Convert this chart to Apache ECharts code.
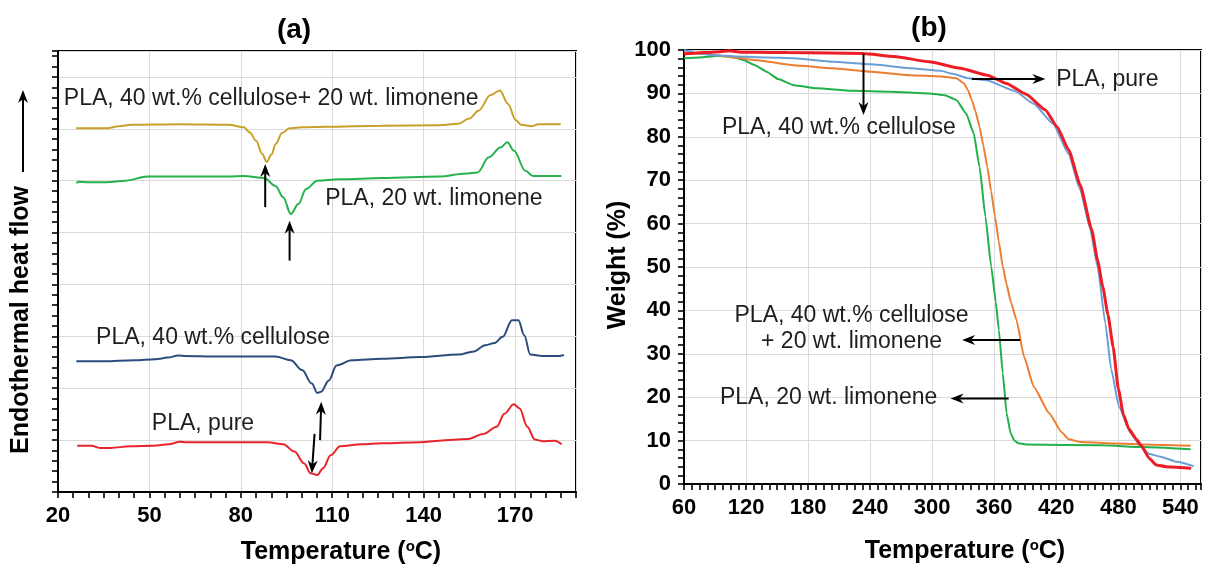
<!DOCTYPE html>
<html>
<head>
<meta charset="utf-8">
<script src="https://cdn.jsdelivr.net/npm/echarts@6/dist/echarts.min.js"></script>
<style>
  html, body { margin: 0; padding: 0; background: #fff; }
  #chart { width: 1209px; height: 568px; }
</style>
</head>
<body>
<div id="chart"></div>
<script>
// ---- (a) DSC thermograms: [temperature °C, heat flow (curves offset, arbitrary units)]
const dscPure = [[26.3,8.9],[31,8.9],[33.8,8.5],[37.2,8.5],[43.8,8.8],[51.3,8.9],[56.3,9.2],[60.1,9.7],[62,9.6],[75,9.6],[88.8,9.6],[93.9,9.2],[97.6,7.8],[100.8,5.5],[102.9,3.6],[105.1,3.3],[107,4.6],[109.5,7.1],[112.6,8.8],[119.5,9.2],[126.4,9.4],[138.9,9.6],[145.1,9.9],[154.6,10.2],[159.6,11.2],[164,12.6],[166.5,15.1],[169.6,16.9],[171.5,16.1],[174,12.6],[176.5,10.1],[179,9.8],[183,9.9],[185.3,9.2]];
const dscCellulose = [[26,25.2],[35,25.2],[45,25.4],[52,25.6],[56,25.9],[59.4,26.3],[62,26.2],[71,26.1],[91.4,26.1],[96.4,25.4],[100.1,23.5],[103.3,20.9],[105.1,19.1],[106.3,19.3],[108.9,21.5],[111.4,24.4],[116.4,25.4],[126.4,25.7],[138.9,26.0],[151.5,26.5],[156.5,27.1],[160.2,28.3],[163.3,28.7],[165.9,29.9],[169,33.1],[171.1,33.1],[173,30.2],[175,26.5],[179,26.2],[184.4,26.2],[186,26.4]];
const dscLimonene = [[26,59.6],[27,59.8],[30,59.7],[36,59.7],[42,60.0],[49.4,60.8],[60,60.8],[76,60.8],[81,60.9],[87.6,60.5],[91.4,59.0],[93.9,56.8],[96.4,53.6],[98.9,55.5],[101.4,58.4],[105.1,60.0],[112.4,60.3],[126.4,60.5],[145.1,60.8],[153.9,61.4],[157.7,61.6],[161.4,64.5],[165.2,66.4],[167.5,67.4],[169.6,65.8],[173.4,61.9],[175.9,60.9],[185.2,60.9]];
const dscCellLimonene = [[26,70.1],[36,70.1],[40,70.5],[44,70.8],[60,70.9],[76,70.8],[81,70.3],[83,69.3],[85,67.7],[87,65.2],[88.5,63.6],[90,65.0],[91.5,67.1],[93.5,69.2],[96,70.1],[100,70.3],[108,70.4],[126,70.6],[145,70.7],[151.5,71.0],[155,72.0],[158,73.5],[162,76.5],[165,77.4],[167.7,74.8],[170.2,71.7],[172,70.8],[175.6,70.5],[177.7,70.9],[185,70.9]];

// ---- (b) TGA curves: [temperature °C, weight %]
const tgaPure = [[60,99.1],[65,99.2],[80,99.4],[95,99.6],[104,99.8],[115,99.5],[128.6,99.5],[160,99.4],[200,99.3],[233.5,99.2],[263.5,98.5],[297.2,97.3],[327.2,95.8],[353.3,94.2],[372,92.3],[390.8,89.8],[409.5,86.2],[420.8,82.3],[432,77.0],[443.2,68.9],[454.4,58.5],[460,51.5],[465,45.5],[470,39],[475,31.6],[480,22],[485,16],[490,12.8],[497.5,10.3],[502,8.9],[510,5.9],[516.7,4.4],[526,4.0],[540,3.8],[550.5,3.6]];
const tgaCellulose = [[60,100],[66,99.7],[72.6,99.2],[90,98.8],[110,98.5],[140,98.3],[166,98.1],[203.6,97.3],[241,96.7],[278.4,95.8],[308.3,95.2],[320,94.5],[334.6,93.5],[353.3,93.0],[379.5,90.6],[398.2,87.6],[417,83.0],[432,76.0],[443.2,67.8],[452.6,59.0],[460,50.1],[467.5,37],[473.1,26.5],[480.7,17.8],[491.9,11.7],[501.3,8.8],[510,6.9],[521,6.3],[536.8,5.1],[553,4.1]];
const tgaCellLimonene = [[60,99.5],[75,99.2],[91.2,98.8],[110,98.2],[128.6,97.7],[166,96.5],[203.6,95.8],[241,95.0],[278.4,94.2],[308.3,93.9],[323.4,93.5],[330.8,92.3],[334.5,90.8],[338.3,88.5],[342,85.8],[345.8,82.3],[349.5,78],[353.3,73.1],[357,67.5],[360.8,61.6],[364.5,55.8],[368.3,50.1],[372,46],[376,42],[381.5,37.8],[388.9,29.3],[398.2,22.4],[413.2,16.3],[425,12],[432,10.3],[443.2,9.7],[470,9.4],[503,9.1],[550,8.8]];
const tgaLimonene = [[60,98.1],[75,98.3],[91.2,98.6],[106.2,98.5],[117.4,97.7],[128.6,96.5],[139.9,95.0],[151.1,93.3],[166.1,91.9],[188.5,91.2],[222.3,90.6],[259.7,90.4],[297.2,90.0],[312.2,89.6],[323.4,88.5],[332.8,85.4],[340.2,80.8],[345.8,73.1],[351.5,61.6],[357.1,50.1],[361.5,42],[364.5,35.5],[368.3,25.5],[372,16.3],[375.9,11.7],[379.5,10],[383.3,9.4],[390.8,9.1],[465.7,8.9],[503,8.5],[550,8.0]];

// ---- axis ranges
const dscTempAxis = { min: 20, max: 190, step: 30, minorStep: 5 };
const dscFlowAxis = { min: 0, max: 85, step: 10, minorStep: 2 };
const tgaTempAxis = { min: 60, max: 560, step: 60, minorStep: 7.5 };
const tgaWeightAxis = { min: 0, max: 100, step: 10, minorStep: 2 };

// ---- annotation arrows [tail, head] in data units
const dscArrows = [
  [[88, 54.9], [88, 63.2]],
  [[96, 44.6], [96, 52.3]],
  [[106, 10.0], [106.4, 17.4]],
  [[104.2, 11.2], [103.3, 3.6]]
];
const tgaArrows = [
  [[233.6, 99.2], [233.6, 85.0]],
  [[338.3, 93.3], [409.5, 93.3]],
  [[385.1, 33.2], [329, 33.2]],
  [[374, 19.7], [317.8, 19.7]]
];

// ---- curve labels
const dscNotes = [
  { text: 'PLA, 40 wt.% cellulose+ 20 wt. limonene', at: [21.9, 75.8], align: 'left' },
  { text: 'PLA, 20 wt. limonene', at: [107.7, 56.6], align: 'left' },
  { text: 'PLA, 40 wt.% cellulose', at: [32.5, 29.8], align: 'left' },
  { text: 'PLA, pure', at: [50.8, 13.2], align: 'left' }
];
const tgaNotes = [
  { text: 'PLA, 40 wt.% cellulose', at: [96.7, 82.0], align: 'left' },
  { text: 'PLA, pure', at: [420, 93.1], align: 'left' },
  { text: 'PLA, 40 wt.% cellulose\n+ 20 wt. limonene', at: [222, 35.7], align: 'center' },
  { text: 'PLA, 20 wt. limonene', at: [94.8, 19.8], align: 'left' }
];

const FONT = '"Liberation Sans", Arial, Helvetica, sans-serif';
const GRID_COLOR = '#dadada';

function mainAxis(r, gridIndex, showLabels, pos) {
  return {
    type: 'value', gridIndex, position: pos,
    min: r.min, max: r.max, interval: r.step,
    axisLine: { show: true, onZero: false, lineStyle: { color: '#000', width: 2 } },
    axisTick: { show: false },
    axisLabel: {
      show: showLabels, showMaxLabel: pos === 'left',
      color: '#000', fontFamily: FONT, fontWeight: 'bold', fontSize: 22, margin: 13
    },
    splitLine: { show: true, lineStyle: { color: GRID_COLOR, width: 1 } }
  };
}
function tickAxis(r, gridIndex, pos) {
  return {
    type: 'value', gridIndex, position: pos,
    min: r.min, max: r.max, interval: r.minorStep,
    axisLine: { show: false, onZero: false },
    axisTick: { show: true, inside: false, length: 6, lineStyle: { color: '#000', width: 1.6 } },
    axisLabel: { show: false },
    splitLine: { show: false }
  };
}
function curve(name, data, color, width, xi, yi, extra) {
  return Object.assign({
    name, type: 'line', data, xAxisIndex: xi, yAxisIndex: yi,
    showSymbol: false, symbol: 'none', smooth: 0.35, smoothMonotone: 'x',
    lineStyle: { color, width }, itemStyle: { color },
    silent: true, animation: false, z: 3
  }, extra || {});
}

const chart = echarts.init(document.getElementById('chart'), null, { renderer: 'canvas' });

const option = {
  backgroundColor: '#fff',
  animation: false,
  grid: [
    { left: 58, top: 51, width: 518, height: 441, show: true, borderColor: '#000', borderWidth: 2, backgroundColor: 'transparent' },
    { left: 684, top: 50, width: 517, height: 434, show: true, borderColor: '#000', borderWidth: 2, backgroundColor: 'transparent' }
  ],
  xAxis: [
    mainAxis(dscTempAxis, 0, true, 'bottom'),
    mainAxis(tgaTempAxis, 1, true, 'bottom'),
    tickAxis(dscTempAxis, 0, 'bottom'),
    tickAxis(tgaTempAxis, 1, 'bottom')
  ],
  yAxis: [
    mainAxis(dscFlowAxis, 0, false, 'left'),
    mainAxis(tgaWeightAxis, 1, true, 'left'),
    tickAxis(dscFlowAxis, 0, 'left'),
    tickAxis(tgaWeightAxis, 1, 'left')
  ],
  series: [
    curve('PLA, 40 wt.% cellulose + 20 wt. limonene', dscCellLimonene, '#c9a02a', 2, 0, 0),
    curve('PLA, 20 wt. limonene', dscLimonene, '#27b24e', 2, 0, 0),
    curve('PLA, 40 wt.% cellulose', dscCellulose, '#2b4d7c', 2, 0, 0),
    curve('PLA, pure', dscPure, '#e8232a', 2, 0, 0),
    curve('PLA, 20 wt. limonene', tgaLimonene, '#22b04b', 2, 1, 1, { smooth: 0.15 }),
    curve('PLA, 40 wt.% cellulose + 20 wt. limonene', tgaCellLimonene, '#ed7d31', 2, 1, 1, { smooth: 0.15 }),
    curve('PLA, 40 wt.% cellulose', tgaCellulose, '#6a9fd6', 2, 1, 1, { smooth: 0.15 }),
    curve('PLA, pure', tgaPure, '#ee1c24', 3, 1, 1, { smooth: 0.15, z: 4 })
  ]
};
chart.setOption(option);

// titles, axis names, curve labels and pointer arrows
const supRich = { sup: { fontSize: 15, fontWeight: 'bold', fontFamily: FONT, verticalAlign: 'top', lineHeight: 26 } };
function titleText(x, y, text, size, rot, rich) {
  return {
    type: 'text', x, y, rotation: rot || 0, silent: true, z: 10,
    style: {
      text, fill: '#000', fontFamily: FONT, fontWeight: 'bold', fontSize: size,
      align: 'center', verticalAlign: 'middle', rich: rich || undefined
    }
  };
}
function arrowShapes(p1, p2) {
  const dx = p2[0] - p1[0], dy = p2[1] - p1[1];
  const len = Math.hypot(dx, dy) || 1;
  const ux = dx / len, uy = dy / len, nx = -uy, ny = ux;
  const headLen = 13, half = 5, notch = 9;
  const bx = p2[0] - ux * headLen, by = p2[1] - uy * headLen;
  const mx = p2[0] - ux * notch, my = p2[1] - uy * notch;
  return [
    { type: 'line', silent: true, z: 9, shape: { x1: p1[0], y1: p1[1], x2: mx, y2: my }, style: { stroke: '#000', lineWidth: 2 } },
    { type: 'polygon', silent: true, z: 9, shape: { points: [[p2[0], p2[1]], [bx + nx * half, by + ny * half], [mx, my], [bx - nx * half, by - ny * half]] }, style: { fill: '#000' } }
  ];
}
const graphics = [
  titleText(294, 30, '(a)', 28),
  titleText(929, 28, '(b)', 28),
  titleText(341, 552, 'Temperature ({sup|o}C)', 25, 0, supRich),
  titleText(965, 551, 'Temperature ({sup|o}C)', 25, 0, supRich),
  titleText(618, 265, 'Weight (%)', 25, Math.PI / 2),
  titleText(21, 320, 'Endothermal heat flow', 25, Math.PI / 2),
  ...arrowShapes([23, 172], [23, 90])
];
[[dscNotes, dscArrows, 0], [tgaNotes, tgaArrows, 1]].forEach(([notes, arrows, i]) => {
  const finder = { xAxisIndex: i, yAxisIndex: i };
  notes.forEach(n => {
    const p = chart.convertToPixel(finder, n.at);
    graphics.push({
      type: 'text', x: p[0], y: p[1], silent: true, z: 10,
      style: {
        text: n.text, fill: '#1e1e1e', fontFamily: FONT, fontSize: 23,
        align: n.align, verticalAlign: 'middle', lineHeight: 26
      }
    });
  });
  arrows.forEach(([a, b]) => {
    graphics.push(...arrowShapes(chart.convertToPixel(finder, a), chart.convertToPixel(finder, b)));
  });
});
chart.setOption({ graphic: graphics });
</script>
</body>
</html>
